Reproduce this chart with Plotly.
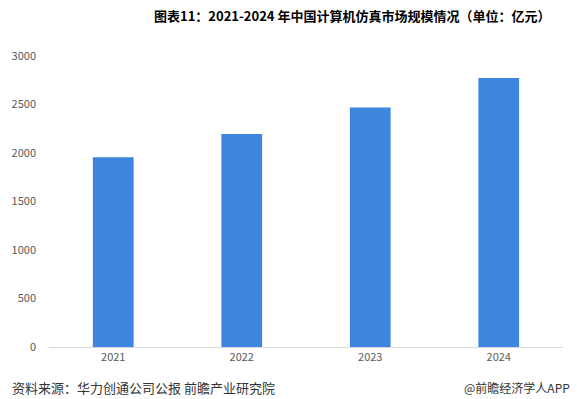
import plotly.graph_objects as go

years = ["2021", "2022", "2023", "2024"]
market_size = [1955, 2195, 2470, 2772]
y_ticks = [0, 500, 1000, 1500, 2000, 2500, 3000]

title_text = "图表11：2021-2024 年中国计算机仿真市场规模情况（单位：亿元）"
source_text = "资料来源：华力创通公司公报 前瞻产业研究院"
brand_text = "@前瞻经济学人APP"

W, H = 577, 399
L, R, T, B = 46, 14, 56, 52
pw, ph = W - L - R, H - T - B


def px_x(x):
    return (x - L) / pw


def px_y(y_from_top):
    return (H - y_from_top - B) / ph


fig = go.Figure()
fig.add_trace(go.Bar(
    x=years, y=market_size,
    marker=dict(color="#3E85E0", line=dict(width=0)),
    hoverinfo="x+y",
))

fig.update_layout(
    width=W, height=H,
    margin=dict(l=L, r=R, t=T, b=B),
    paper_bgcolor="white", plot_bgcolor="white",
    bargap=0.683,
    showlegend=False,
    font=dict(family="Noto Sans CJK SC, sans-serif", color="#595959", size=11),
    xaxis=dict(
        type="category",
        showline=True, linecolor="#D9D9D9", linewidth=1,
        ticks="", showgrid=False,
        tickfont=dict(size=11, color="#595959"),
    ),
    yaxis=dict(
        range=[0, 3000],
        tickvals=y_ticks,
        showgrid=False, zeroline=False, showline=False,
        ticks="", ticklabelstandoff=12,
        tickfont=dict(size=11, color="#595959"),
    ),
    annotations=[
        dict(text="<b>" + title_text + "</b>", x=px_x(351), y=px_y(15),
             xref="paper", yref="paper", xanchor="center", yanchor="middle",
             showarrow=False, font=dict(size=13, color="#000000",
                                       family="Noto Sans CJK SC, sans-serif")),
        dict(text=source_text, x=px_x(7), y=px_y(387), xref="paper", yref="paper",
             xanchor="left", yanchor="middle", showarrow=False,
             font=dict(size=13, color="#333333")),
        dict(text=brand_text, x=px_x(572), y=px_y(387), xref="paper", yref="paper",
             xanchor="right", yanchor="middle", showarrow=False,
             font=dict(size=12, color="#333333")),
    ],
)

fig.write_html("out.html", config={"displayModeBar": False},
               post_script="document.body.style.margin='0';")
